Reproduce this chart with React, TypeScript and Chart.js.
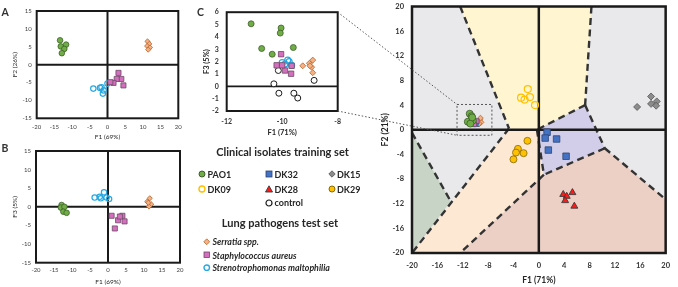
import React, { useEffect, useRef } from "react";
import { Chart, registerables } from "chart.js";
Chart.register(...registerables);

type Pt = [number, number];

// ---------- Panel A: F1 (69%) vs F2 (26%) ----------
const A_PAO1: Pt[] = [[-13.4, 6.8], [-13.2, 5.1], [-11.7, 5.6], [-12.2, 4.4], [-12.9, 3.2]];
const A_SERRATIA: Pt[] = [[11.3, 6.5], [11.8, 5.8], [11.2, 5.2], [12.0, 4.8], [11.5, 4.2]];
const A_STAPH: Pt[] = [[3.1, -2.3], [3.9, -4.0], [2.6, -4.0], [1.7, -5.1], [0.8, -4.9], [4.5, -5.8]];
const A_STENO: Pt[] = [[0.0, -5.3], [-2.1, -6.5], [-4.0, -6.7], [-1.1, -7.2], [-1.3, -8.1], [-1.7, -6.3]];

// ---------- Panel B: F1 (69%) vs F3 (5%) ----------
const B_PAO1: Pt[] = [[-12.9, 0.5], [-13.1, -0.2], [-12.1, 0.0], [-12.4, -1.3], [-11.5, -1.6]];
const B_SERRATIA: Pt[] = [[11.6, 2.3], [10.9, 1.4], [12.0, 0.7], [11.4, 0.1], [11.2, 1.1]];
const B_STAPH: Pt[] = [[1.0, -2.4], [4.0, -2.4], [2.8, -3.6], [4.6, -3.9], [1.9, -5.8], [3.3, -2.6]];
const B_STENO: Pt[] = [[-3.7, 2.5], [-2.0, 2.3], [-1.1, 3.9], [-0.4, 2.5], [0.3, 2.1], [-2.3, 2.7]];

// ---------- Panel C: F1 (71%) vs F3 (5%) ----------
const C_PAO1: Pt[] = [[-11.12, 5.06], [-10.04, 4.72], [-10.07, 4.31], [-10.74, 3.06], [-9.6, 3.14], [-10.36, 2.6]];
const C_STAPH: Pt[] = [[-10.04, 2.6], [-10.2, 1.7], [-9.9, 1.28], [-9.68, 1.02], [-9.66, 1.66], [-10.0, 1.7]];
const C_STENO: Pt[] = [[-10.0, 1.91], [-9.8, 2.12], [-9.9, 1.8], [-9.66, 1.7], [-9.75, 2.0]];
const C_SERRATIA: Pt[] = [[-9.26, 1.66], [-9.02, 1.86], [-8.9, 2.12], [-8.94, 1.55], [-8.9, 1.1], [-9.0, 1.66]];
const C_CONTROL: Pt[] = [[-10.14, 1.28], [-10.3, 0.2], [-8.85, 0.48], [-10.12, -0.56], [-9.58, -0.56], [-9.44, -0.95]];

// ---------- Main panel: F1 (71%) vs F2 (21%) ----------
const D_DK09: Pt[] = [[-1.74, 6.6], [-2.8, 5.2], [-2.25, 4.9], [-1.4, 5.3], [-0.6, 4.0]];
const D_DK29: Pt[] = [[-1.8, -1.8], [-3.3, -3.1], [-3.6, -3.7], [-2.4, -3.8], [-4.0, -4.8]];
const D_DK32: Pt[] = [[1.3, -0.4], [1.0, -1.35], [2.8, -1.5], [1.5, -3.3], [4.3, -4.3]];
const D_DK28: Pt[] = [[3.85, -10.5], [5.3, -10.2], [4.4, -10.8], [4.15, -11.5], [5.6, -12.4]];
const D_DK15: Pt[] = [[15.5, 3.7], [17.7, 5.4], [17.7, 4.2], [18.6, 4.6], [18.5, 3.9]];
const D_PAO1: Pt[] = [[-10.9, 2.6], [-10.6, 2.2], [-11.2, 1.3], [-10.4, 1.5], [-10.8, 1.0], [-10.5, 2.0]];
const D_STAPH: Pt[] = [[-10.0, 1.1], [-9.8, 1.4], [-10.2, 0.9]];
const D_STENO: Pt[] = [[-10.1, 1.0], [-9.9, 1.2], [-10.3, 1.1]];
const D_SERRATIA: Pt[] = [[-9.3, 1.6], [-9.1, 1.2], [-9.4, 1.0], [-9.2, 1.9]];
const D_CONTROL: Pt[] = [[-10.0, 1.2], [-9.6, 1.0], [-10.2, 1.4]];

// classification regions (main panel)
const REGION_DK09: Pt[] = [[-12.4, 20], [8.3, 20], [7.3, 4.0], [-0.3, 0], [-4.7, 0.2]];
const REGION_DK32: Pt[] = [[-0.3, 0], [7.3, 4.0], [10.4, -3.0], [0.8, -7.3]];
const REGION_DK29: Pt[] = [[-4.7, 0.2], [-0.3, 0], [0.8, -7.3], [-12.4, -20], [-20, -20]];
const REGION_DK28: Pt[] = [[0.8, -7.3], [10.4, -3.0], [20, -11.3], [20, -20], [-12.4, -20]];
const REGION_GREEN: Pt[] = [[-20, -0.5], [-13.9, -11.6], [-20, -20]];
const BOUNDARIES: Pt[][] = [
  [[-12.4, 20], [-4.7, 0.2]],
  [[8.3, 20], [7.3, 4.0]],
  [[7.3, 4.0], [-0.3, 0]],
  [[7.3, 4.0], [10.4, -3.0]],
  [[10.4, -3.0], [20, -11.3]],
  [[10.4, -3.0], [0.8, -7.3]],
  [[-0.3, 0], [0.8, -7.3]],
  [[0.8, -7.3], [-12.4, -20]],
  [[-4.7, 0.2], [-20, -20]],
  [[-20, -0.5], [-13.9, -11.6]],
];
const ZOOM_BOX_X = [-12.9, -7.4];
const ZOOM_BOX_Y = [-0.9, 4.1];

// tick values
const AB_X_TICKS = [-20, -15, -10, -5, 0, 5, 10, 15, 20];
const AB_Y_TICKS = [-15, -10, -5, 0, 5, 10, 15];
const C_X_TICKS = [-12, -10, -8];
const C_Y_TICKS = [-2, -1, 0, 1, 2, 3, 4, 5, 6];
const D_X_TICKS = [-20, -16, -12, -8, -4, 0, 4, 8, 12, 16, 20];
const D_Y_TICKS = [-20, -16, -12, -8, -4, 0, 4, 8, 12, 16, 20];

// legend
const TRAINING_LEGEND = [
  { key: "PAO1", col: 0, row: 0 },
  { key: "DK32", col: 1, row: 0 },
  { key: "DK15", col: 2, row: 0 },
  { key: "DK09", col: 0, row: 1 },
  { key: "DK28", col: 1, row: 1 },
  { key: "DK29", col: 2, row: 1 },
  { key: "control", col: 1, row: 2 },
];
const TEST_LEGEND = [
  { key: "Serratia", label: "Serratia spp." },
  { key: "Staph", label: "Staphylococcus aureus" },
  { key: "Steno", label: "Strenotrophomonas maltophilia" },
];

const FONT = "Lato, 'Liberation Sans', sans-serif";
const INK = "#262626";

type Sty = { shape: string; fill: string; stroke: string; bw: number };
const STY: Record<string, Sty> = {
  PAO1: { shape: "circle", fill: "#70ad47", stroke: "#3d5f2a", bw: 0.8 },
  DK32: { shape: "rect", fill: "#4472c4", stroke: "#2c4470", bw: 0.8 },
  DK15: { shape: "rectRot", fill: "#8c8c8c", stroke: "#555555", bw: 0.8 },
  DK09: { shape: "circle", fill: "rgba(255,255,255,0)", stroke: "#ffc000", bw: 1.2 },
  DK28: { shape: "triangle", fill: "#ff1a1a", stroke: "#3a3a3a", bw: 0.9 },
  DK29: { shape: "circle", fill: "#ffc000", stroke: "#8a6a00", bw: 0.8 },
  control: { shape: "circle", fill: "#ffffff", stroke: "#1a1a1a", bw: 1.0 },
  Serratia: { shape: "rectRot", fill: "#f4b183", stroke: "#b5652e", bw: 0.8 },
  Staph: { shape: "rect", fill: "#d46fbe", stroke: "#6c4a66", bw: 0.8 },
  Steno: { shape: "circle", fill: "rgba(255,255,255,0)", stroke: "#29a8e0", bw: 1.2 },
};

function ds(key: string, data: Pt[], r: number) {
  const s = STY[key];
  return {
    label: key,
    data: data.map(([x, y]) => ({ x, y })),
    pointStyle: s.shape,
    backgroundColor: s.fill,
    borderColor: s.stroke,
    borderWidth: s.bw,
    pointRadius: r,
    pointHoverRadius: r,
  };
}

const panelPlugin = {
  id: "panel",
  beforeDatasetsDraw(chart: any, _a: any, o: any) {
    const { ctx, chartArea: ca, scales } = chart;
    const X = (v: number) => scales.x.getPixelForValue(v);
    const Y = (v: number) => scales.y.getPixelForValue(v);
    ctx.save();
    ctx.beginPath();
    ctx.rect(ca.left, ca.top, ca.right - ca.left, ca.bottom - ca.top);
    ctx.clip();
    if (o.background) {
      ctx.fillStyle = o.background;
      ctx.fillRect(ca.left, ca.top, ca.right - ca.left, ca.bottom - ca.top);
    }
    (o.regions || []).forEach((r: any) => {
      ctx.beginPath();
      r.pts.forEach(([x, y]: Pt, i: number) => (i ? ctx.lineTo(X(x), Y(y)) : ctx.moveTo(X(x), Y(y))));
      ctx.closePath();
      ctx.fillStyle = r.color;
      ctx.fill();
    });
    if (o.boundaries) {
      ctx.setLineDash([7, 4.5]);
      ctx.lineWidth = 2.4;
      ctx.strokeStyle = "#333333";
      o.boundaries.forEach((seg: Pt[]) => {
        ctx.beginPath();
        ctx.moveTo(X(seg[0][0]), Y(seg[0][1]));
        ctx.lineTo(X(seg[1][0]), Y(seg[1][1]));
        ctx.stroke();
      });
      ctx.setLineDash([]);
    }
    ctx.strokeStyle = "#1a1a1a";
    ctx.lineWidth = o.zeroWidth;
    const sx = scales.x, sy = scales.y;
    if (sx.min < 0 && sx.max > 0) {
      ctx.beginPath();
      ctx.moveTo(X(0), ca.top);
      ctx.lineTo(X(0), ca.bottom);
      ctx.stroke();
    }
    if (sy.min < 0 && sy.max > 0) {
      ctx.beginPath();
      ctx.moveTo(ca.left, Y(0));
      ctx.lineTo(ca.right, Y(0));
      ctx.stroke();
    }
    if (o.zoomBox) {
      ctx.setLineDash([2, 2]);
      ctx.lineWidth = 1;
      ctx.strokeStyle = "#555555";
      const [x0, x1] = o.zoomBox.x, [y0, y1] = o.zoomBox.y;
      ctx.strokeRect(X(x0), Y(y1), X(x1) - X(x0), Y(y0) - Y(y1));
      ctx.setLineDash([]);
    }
    ctx.restore();
  },
  afterDatasetsDraw(chart: any, _a: any, o: any) {
    const { ctx, chartArea: ca } = chart;
    ctx.save();
    ctx.strokeStyle = "#1a1a1a";
    ctx.lineWidth = o.frameWidth;
    ctx.strokeRect(ca.left, ca.top, ca.right - ca.left, ca.bottom - ca.top);
    ctx.restore();
  },
};

type AxisSty = {
  size: number; tickFont: any; tickPad: number; titleFont: any; titlePad: number; tickColor: string;
};

function axis(dir: "x" | "y", ticks: number[], title: string, s: AxisSty) {
  const common: any = {
    type: "linear",
    min: ticks[0],
    max: ticks[ticks.length - 1],
    afterBuildTicks: (sc: any) => {
      sc.ticks = ticks.map((v) => ({ value: v }));
    },
    ticks: {
      font: s.tickFont, color: s.tickColor, padding: s.tickPad, autoSkip: false,
      maxRotation: 0, minRotation: 0, callback: (v: any) => String(v),
    },
    grid: { display: false, drawTicks: false },
    border: { display: false },
    title: {
      display: true, text: title, font: s.titleFont, color: INK,
      padding: dir === "x" ? { top: 0, bottom: s.titlePad } : { top: s.titlePad, bottom: 0 },
    },
  };
  if (dir === "x") return { ...common, position: "bottom", afterFit: (sc: any) => { sc.height = s.size; } };
  return { ...common, position: "left", afterFit: (sc: any) => { sc.width = s.size; } };
}

function config(datasets: any[], x: any, y: any, pad: any, panel: any) {
  return {
    type: "scatter",
    data: { datasets },
    options: {
      animation: false,
      responsive: false,
      maintainAspectRatio: false,
      devicePixelRatio: 1,
      events: [],
      layout: { padding: pad },
      scales: { x, y },
      plugins: { legend: { display: false }, tooltip: { enabled: false }, panel },
    },
    plugins: [panelPlugin],
  } as any;
}

const POS = {
  A: { left: 0, top: 0, w: 192, h: 142 },
  B: { left: 0, top: 140, w: 192, h: 147 },
  C: { left: 190, top: 0, w: 160, h: 140 },
  D: { left: 370, top: -6, w: 308, h: 293 },
};

function Marker({ k, size = 8 }: { k: string; size?: number }) {
  const s = STY[k];
  const c = size / 2;
  let el: any;
  if (s.shape === "circle") el = <circle cx={c} cy={c} r={c - 1} fill={s.fill === "rgba(255,255,255,0)" ? "#fff" : s.fill} stroke={s.stroke} strokeWidth={s.bw + 0.2} />;
  else if (s.shape === "rect") el = <rect x={1} y={1} width={size - 2} height={size - 2} fill={s.fill} stroke={s.stroke} strokeWidth={s.bw} />;
  else if (s.shape === "rectRot") el = <polygon points={`${c},0.8 ${size - 0.8},${c} ${c},${size - 0.8} 0.8,${c}`} fill={s.fill} stroke={s.stroke} strokeWidth={s.bw} />;
  else el = <polygon points={`${c},0.8 ${size - 0.5},${size - 1} 0.5,${size - 1}`} fill={s.fill} stroke={s.stroke} strokeWidth={s.bw} />;
  return <svg width={size} height={size} style={{ display: "block", flex: "none" }}>{el}</svg>;
}

export default function App() {
  const aRef = useRef<HTMLCanvasElement>(null);
  const bRef = useRef<HTMLCanvasElement>(null);
  const cRef = useRef<HTMLCanvasElement>(null);
  const dRef = useRef<HTMLCanvasElement>(null);
  const oRef = useRef<HTMLCanvasElement>(null);

  useEffect(() => {
    const small: AxisSty = {
      size: 0, tickFont: { family: FONT, size: 6 }, tickPad: 5.5,
      titleFont: { family: FONT, size: 6.5 }, titlePad: 1.4, tickColor: "#404040",
    };
    const chartA = new Chart(aRef.current as any, config(
      [ds("PAO1", A_PAO1, 2.8), ds("Serratia", A_SERRATIA, 2.6), ds("Staph", A_STAPH, 3.6), ds("Steno", A_STENO, 2.7)],
      axis("x", AB_X_TICKS, "F1 (69%)", { ...small, size: 23.7, tickPad: 5.5 }),
      axis("y", AB_Y_TICKS, "F2 (26%)", { ...small, size: 36.7, tickPad: 5, titlePad: 11 }),
      { top: 11, right: 13.7, left: 0, bottom: 0 },
      { zeroWidth: 2, frameWidth: 2 },
    ));
    const chartB = new Chart(bRef.current as any, config(
      [ds("PAO1", B_PAO1, 2.8), ds("Serratia", B_SERRATIA, 2.6), ds("Staph", B_STAPH, 3.6), ds("Steno", B_STENO, 2.7)],
      axis("x", AB_X_TICKS, "F1 (69%)", { ...small, size: 24.3, tickPad: 3.5 }),
      axis("y", AB_Y_TICKS, "F3 (5%)", { ...small, size: 36, tickPad: 5, titlePad: 11 }),
      { top: 11, right: 12, left: 0, bottom: 0 },
      { zeroWidth: 2, frameWidth: 2 },
    ));
    const mid: AxisSty = {
      size: 0, tickFont: { family: FONT, size: 7, weight: "bold" }, tickPad: 6.5,
      titleFont: { family: FONT, size: 7.5, weight: "bold" }, titlePad: 3.2, tickColor: "#333333",
    };
    const chartC = new Chart(cRef.current as any, config(
      [ds("PAO1", C_PAO1, 3), ds("Staph", C_STAPH, 3.8), ds("Steno", C_STENO, 3), ds("Serratia", C_SERRATIA, 3), ds("control", C_CONTROL, 3)],
      axis("x", C_X_TICKS, "F1 (71%)", { ...mid, size: 29 }),
      axis("y", C_Y_TICKS, "F3 (5%)", { ...mid, size: 36.7, tickPad: 8, titlePad: 12 }),
      { top: 6.7, right: 12.3, left: 0, bottom: 0 },
      { zeroWidth: 1.8, frameWidth: 2 },
    ));
    const big: AxisSty = {
      size: 0, tickFont: { family: FONT, size: 7.5, weight: "bold" }, tickPad: 8,
      titleFont: { family: FONT, size: 8.5, weight: "bold" }, titlePad: 2, tickColor: "#333333",
    };
    const chartD = new Chart(dRef.current as any, config(
      [
        ds("PAO1", D_PAO1, 3.5), ds("Staph", D_STAPH, 3.4), ds("Steno", D_STENO, 3), ds("Serratia", D_SERRATIA, 2.8), ds("control", D_CONTROL, 2.8),
        ds("DK09", D_DK09, 3.5), ds("DK29", D_DK29, 3.5), ds("DK32", D_DK32, 4.6), ds("DK28", D_DK28, 4), ds("DK15", D_DK15, 3.5),
      ],
      axis("x", D_X_TICKS, "F1 (71%)", { ...big, size: 34 }),
      axis("y", D_Y_TICKS, "F2 (21%)", { ...big, size: 42, titlePad: 10 }),
      { top: 10, right: 6, left: 0, bottom: 0 },
      {
        zeroWidth: 2.5, frameWidth: 2.5, background: "#e9e9eb",
        regions: [
          { pts: REGION_GREEN, color: "#c8d4c6" },
          { pts: REGION_DK29, color: "#fde8d4" },
          { pts: REGION_DK28, color: "#ecd0c5" },
          { pts: REGION_DK32, color: "#d2cee9" },
          { pts: REGION_DK09, color: "#fff6d1" },
        ],
        boundaries: BOUNDARIES,
        zoomBox: { x: ZOOM_BOX_X, y: ZOOM_BOX_Y },
      },
    ));

    // connector lines from panel C to the zoom box
    const ov = oRef.current as HTMLCanvasElement;
    const ctx = ov.getContext("2d") as CanvasRenderingContext2D;
    const cA = chartC.chartArea;
    const cx = POS.C.left + cA.right;
    const ct = POS.C.top + cA.top;
    const cb = POS.C.top + cA.bottom;
    const mx = POS.D.left + chartD.scales.x.getPixelForValue(ZOOM_BOX_X[0]);
    const mt = POS.D.top + chartD.scales.y.getPixelForValue(ZOOM_BOX_Y[1]);
    const mb = POS.D.top + chartD.scales.y.getPixelForValue(ZOOM_BOX_Y[0]);
    ctx.clearRect(0, 0, ov.width, ov.height);
    ctx.setLineDash([1.5, 2]);
    ctx.strokeStyle = "#555555";
    ctx.lineWidth = 1;
    ctx.beginPath();
    ctx.moveTo(cx, ct); ctx.lineTo(mx, mt);
    ctx.moveTo(cx, cb); ctx.lineTo(mx, mb);
    ctx.stroke();

    return () => { chartA.destroy(); chartB.destroy(); chartC.destroy(); chartD.destroy(); };
  }, []);

  const cv = (ref: any, p: any) => (
    <canvas ref={ref} width={p.w} height={p.h} style={{ position: "absolute", left: p.left, top: p.top, width: p.w, height: p.h }} />
  );

  const colX = [202, 269, 331.5];
  const rowY = [174, 189.3, 202.7];
  const testY = [241.7, 255, 267.3];

  return (
    <div style={{ position: "absolute", left: 0, top: 0, width: 678, height: 287, overflow: "hidden", background: "#fff", fontFamily: FONT, color: INK }}>
      {cv(aRef, POS.A)}
      {cv(bRef, POS.B)}
      {cv(cRef, POS.C)}
      {cv(dRef, POS.D)}
      <canvas ref={oRef} width={678} height={287} style={{ position: "absolute", left: 0, top: 0, width: 678, height: 287, pointerEvents: "none" }} />
      <div style={{ position: "absolute", left: 1.5, top: 5, fontSize: 10.5, fontWeight: 700, lineHeight: "14px", color: "#333" }}>A</div>
      <div style={{ position: "absolute", left: 1.5, top: 141, fontSize: 10.5, fontWeight: 700, lineHeight: "14px", color: "#333" }}>B</div>
      <div style={{ position: "absolute", left: 197, top: 5, fontSize: 10.5, fontWeight: 700, lineHeight: "14px", color: "#333" }}>C</div>
      <div style={{ position: "absolute", left: 195, width: 175, top: 145, textAlign: "center", fontSize: 11, fontWeight: 700, lineHeight: "14px", whiteSpace: "nowrap" }}>Clinical isolates training set</div>
      {TRAINING_LEGEND.map((it) => (
        <div key={it.key} style={{ position: "absolute", left: colX[it.col] - 4, top: rowY[it.row] - 6, height: 12, display: "flex", alignItems: "center", gap: 1.5, fontSize: 9, fontWeight: 700, whiteSpace: "nowrap" }}>
          <Marker k={it.key} />
          <span>{it.key}</span>
        </div>
      ))}
      <div style={{ position: "absolute", left: 195, width: 170, top: 216, textAlign: "center", fontSize: 11, fontWeight: 700, lineHeight: "14px", whiteSpace: "nowrap" }}>Lung pathogens test set</div>
      {TEST_LEGEND.map((it, i) => (
        <div key={it.key} style={{ position: "absolute", left: 203, top: testY[i] - 6, height: 12, display: "flex", alignItems: "center", gap: 2, fontSize: 8.8, fontWeight: 700, fontStyle: "italic", whiteSpace: "nowrap" }}>
          <Marker k={it.key} size={7.5} />
          <span>{it.label}</span>
        </div>
      ))}
    </div>
  );
}
